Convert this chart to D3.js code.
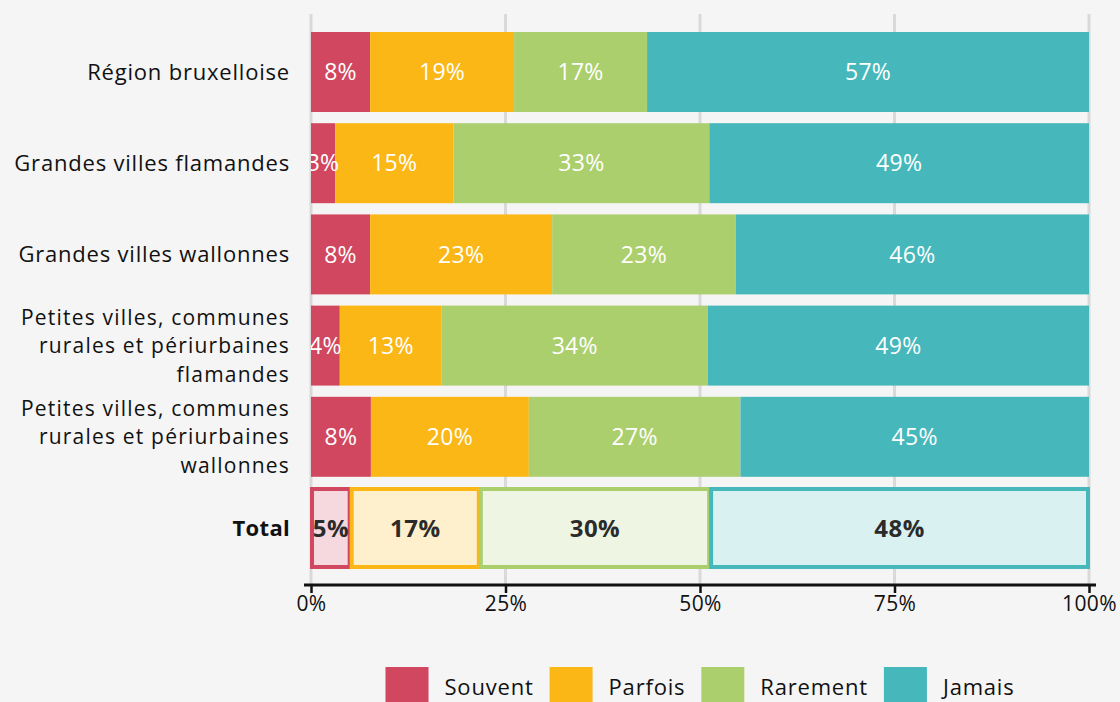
<!DOCTYPE html>
<html><head><meta charset="utf-8">
<script src="https://cdn.jsdelivr.net/npm/d3@7"></script>
<style>
html,body{margin:0;padding:0;background:#f5f5f5;}
svg{display:block;font-family:"Open Sans", sans-serif;}
</style></head>
<body><svg id="chart" width="1120" height="702"></svg>
<script>
const categories = [
  ["Région bruxelloise"],
  ["Grandes villes flamandes"],
  ["Grandes villes wallonnes"],
  ["Petites villes, communes", "rurales et périurbaines", "flamandes"],
  ["Petites villes, communes", "rurales et périurbaines", "wallonnes"],
  ["Total"]
];
const seriesNames = ["Souvent", "Parfois", "Rarement", "Jamais"];
const souvent  = [7.6, 3.1, 7.6, 3.7, 7.7, 5.1];
const parfois  = [18.5, 15.2, 23.4, 13.1, 20.3, 16.6];
const rarement = [17.1, 32.9, 23.6, 34.2, 27.2, 29.6];
const jamais   = [56.8, 48.8, 45.4, 49.0, 44.8, 48.7];
const valueLabels = [
  ["8%", "19%", "17%", "57%"],
  ["3%", "15%", "33%", "49%"],
  ["8%", "23%", "23%", "46%"],
  ["4%", "13%", "34%", "49%"],
  ["8%", "20%", "27%", "45%"],
  ["5%", "17%", "30%", "48%"]
];
const tickValues = [0, 25, 50, 75, 100];
const tickLabels = ["0%", "25%", "50%", "75%", "100%"];
const colors = ["#d1475f", "#fbb716", "#accf6d", "#46b8bb"];
const lightColors = ["#f6d9de", "#fef0cc", "#eef5e2", "#d9f1f1"];

const FONT = "'Open Sans', sans-serif";
const seriesData = [souvent, parfois, rarement, jamais];
const rows = categories.map((c, i) => {
  const o = {key: i};
  seriesNames.forEach((s, j) => o[s] = seriesData[j][i]);
  return o;
});
const stacked = d3.stack().keys(seriesNames)(rows);

const svg = d3.select("#chart");
const x = d3.scaleLinear().domain([0, 100]).range([311, 1089]);
const y = d3.scaleBand().domain(d3.range(categories.length))
  .range([26.4, 573.6]).paddingInner(0.123).paddingOuter(0.0615);

svg.append("defs").append("clipPath").attr("id", "plotclip")
  .append("rect").attr("x", x(0)).attr("y", 0).attr("width", x(100) - x(0) + 4).attr("height", 600);

// gridlines
svg.append("g").selectAll("line").data(tickValues).join("line")
  .attr("x1", d => x(d)).attr("x2", d => x(d))
  .attr("y1", 14).attr("y2", 585)
  .attr("stroke", "#d9d9d9").attr("stroke-width", 3);

const lastIdx = categories.length - 1;
// bars
const g = svg.append("g");
stacked.forEach((layer, j) => {
  layer.forEach((d, i) => {
    const isTotal = i === lastIdx;
    const x0 = x(d[0]), x1 = x(d[1]);
    if (isTotal) {
      g.append("rect")
        .attr("x", x0 + 1).attr("y", y(i) + 1)
        .attr("width", x1 - x0 - 2).attr("height", y.bandwidth() - 2)
        .attr("fill", lightColors[j]).attr("stroke", colors[j]).attr("stroke-width", 4);
    } else {
      g.append("rect")
        .attr("x", x0).attr("y", y(i))
        .attr("width", x1 - x0).attr("height", y.bandwidth())
        .attr("fill", colors[j]);
    }
  });
});
// value labels
const lg = svg.append("g").attr("clip-path", "url(#plotclip)");
stacked.forEach((layer, j) => {
  layer.forEach((d, i) => {
    const isTotal = i === lastIdx;
    lg.append("text")
      .attr("x", (x(d[0]) + x(d[1])) / 2)
      .attr("y", y(i) + y.bandwidth() / 2)
      .attr("dy", "0.36em")
      .attr("text-anchor", "middle")
      .attr("font-size", isTotal ? 24 : 23)
      .attr("letter-spacing", isTotal ? 0.5 : 0.3)
      .attr("font-weight", isTotal ? 700 : 400)
      .attr("fill", isTotal ? "#2b2b2b" : "#ffffff")
      .text(valueLabels[i][j]);
  });
});
// category labels
categories.forEach((lines, i) => {
  const cy = y(i) + y.bandwidth() / 2;
  const lh = 28.5;
  const multi = lines.length > 1;
  const t = svg.append("text")
    .attr("text-anchor", "end")
    .attr("font-size", multi ? 21 : 22)
    .attr("letter-spacing", i === lastIdx ? 0.3 : (multi ? 1.2 : 0.8))
    .attr("font-weight", i === lastIdx ? 700 : 400)
    .attr("fill", "#111");
  lines.forEach((ln, k) => {
    t.append("tspan").attr("x", 290)
      .attr("y", cy + (k - (lines.length - 1) / 2) * lh)
      .attr("dy", "0.36em").text(ln);
  });
});
// x axis
const axis = d3.axisBottom(x).tickValues(tickValues)
  .tickFormat((d, i) => tickLabels[i]).tickSize(8).tickSizeOuter(0).tickPadding(3);
const ax = svg.append("g").attr("transform", "translate(0,585)").call(axis);
ax.select(".domain").attr("d", "M304,0H1096").attr("stroke", "#111").attr("stroke-width", 3);
ax.selectAll(".tick line").attr("stroke", "#111").attr("stroke-width", 2.5);
ax.selectAll(".tick text").attr("font-size", 21).attr("letter-spacing", 0.4).attr("fill", "#111")
  .attr("font-family", FONT);

// legend
const legend = svg.append("g");
const items = [];
seriesNames.forEach((s, j) => {
  const it = legend.append("g");
  it.append("rect").attr("x", 0).attr("y", 667).attr("width", 43).attr("height", 43).attr("fill", colors[j]);
  const tx = it.append("text").attr("x", 59).attr("y", 695).attr("font-size", 22)
    .attr("letter-spacing", 0.8).attr("fill", "#111").text(s);
  const w = 59 + tx.node().getComputedTextLength();
  items.push({it, w});
});
const totalW = d3.sum(items, d => d.w) + 16 * (items.length - 1);
let cur = (x(0) + x(100)) / 2 - totalW / 2;
items.forEach(d => { d.it.attr("transform", `translate(${cur},0)`); cur += d.w + 16; });
</script></body></html>
